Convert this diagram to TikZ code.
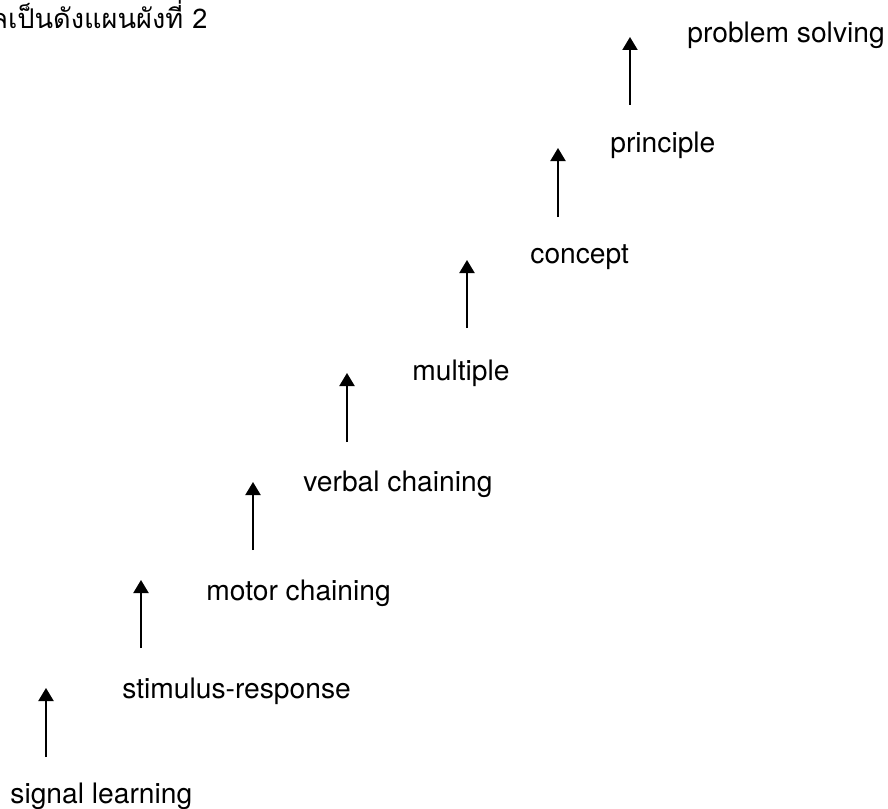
\documentclass[tikz,border=0pt]{standalone}
\usepackage{fontspec}
\setmainfont{TeX Gyre Heros}
\newfontfamily\thaifont[Script=Thai]{Loma}
\usetikzlibrary{arrows.meta, positioning, calc}
\tikzset{
    level/.style={
        anchor=base west,
        inner sep=0pt,
        font=\fontsize{14.1}{17}\selectfont,
    },
    caption/.style={
        anchor=base east,
        inner sep=0pt,
        font=\thaifont\fontsize{13.6}{17}\selectfont,
    },
    rise/.style={
        ->,
        line width=1pt,
    },
}
\begin{document}
\begin{tikzpicture}[x=0.5pt,y=-0.5pt,>={Triangle[length=6.5pt,width=7.5pt]}]
          \useasboundingbox (0,0) rectangle (888,808);
          \node [caption] (title) at (208,29) {ลเป็นดังแผนผังที่ 2};

          \node [level] (signal) at (10,803) {signal learning};
          \node [level] (stimulus) at (122,698) {stimulus-response};
          \node [level] (motor) at (206,600) {motor chaining};
          \node [level] (verbal) at (303,491) {verbal chaining};
          \node [level] (multiple) at (412,380) {multiple};
          \node [level] (concept) at (530,263) {concept};
          \node [level] (principle) at (610,152) {principle};
          \node [level] (problem) at (687,43) {problem solving};

          \coordinate (from-signal) at (46,757);
          \coordinate (to-stimulus) at (46,688);
          \coordinate (from-stimulus) at (141,648);
          \coordinate (to-motor) at (141,580);
          \coordinate (from-motor) at (253,550);
          \coordinate (to-verbal) at (253,482);
          \coordinate (from-verbal) at (347,442);
          \coordinate (to-multiple) at (347,373);
          \coordinate (from-multiple) at (467,328);
          \coordinate (to-concept) at (467,260);
          \coordinate (from-concept) at (558,217);
          \coordinate (to-principle) at (558,148);
          \coordinate (from-principle) at (630,105);
          \coordinate (to-problem) at (630,37);

          \draw [rise] (from-signal) -- (to-stimulus);
          \draw [rise] (from-stimulus) -- (to-motor);
          \draw [rise] (from-motor) -- (to-verbal);
          \draw [rise] (from-verbal) -- (to-multiple);
          \draw [rise] (from-multiple) -- (to-concept);
          \draw [rise] (from-concept) -- (to-principle);
          \draw [rise] (from-principle) -- (to-problem);
        \end{tikzpicture}
\end{document}
